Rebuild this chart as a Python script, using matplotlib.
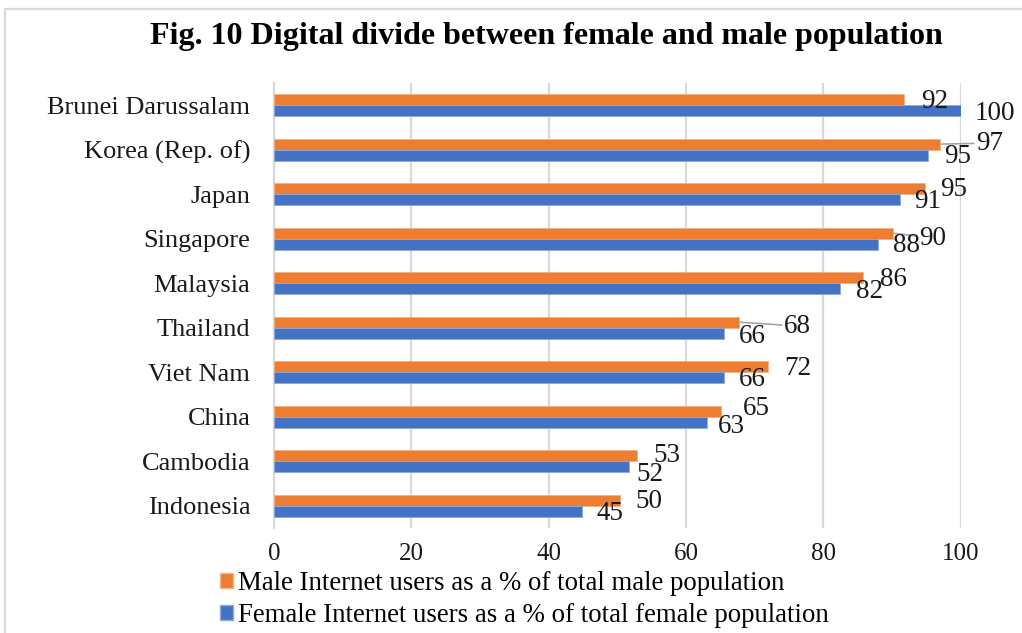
"""Horizontal grouped bars: internet users by sex, selected Asian economies."""

import numpy as np
import matplotlib

matplotlib.use("Agg")
import matplotlib.pyplot as plt
from matplotlib.patches import Patch, Rectangle

plt.rcParams["font.family"] = ["Liberation Serif", "DejaVu Serif"]

# Data
countries = ["Brunei Darussalam", "Korea (Rep. of)", "Japan", "Singapore", "Malaysia",
             "Thailand", "Viet Nam", "China", "Cambodia", "Indonesia"]
male = [91.8, 97.0, 94.8, 90.1, 85.8, 67.7, 71.9, 65.1, 52.8, 50.4]
female = [100.0, 95.3, 91.1, 87.9, 82.4, 65.5, 65.5, 63.0, 51.7, 44.9]
male_labels = ["92", "97", "95", "90", "86", "68", "72", "65", "53", "50"]
female_labels = ["100", "95", "91", "88", "82", "66", "66", "63", "52", "45"]
xticks = [0, 20, 40, 60, 80, 100]

male_name = "Male Internet users as a % of total male population"
female_name = "Female Internet users as a % of total female population"
title = "Fig. 10 Digital divide between female and male population"

# Label placement, pixel offsets from the bar end (x right, y up)
male_offsets = [(30, -2), (50, 1), (29, -1), (40, -5), (30, -2),
                (59, -4), (30, -2), (35, 3), (30, 0), (29, -1)]
female_offsets = [(34, -3), (29, -1), (28, -2), (29, -1), (30, -3),
                  (29, -3), (29, -2), (25, -4), (21, -8), (28, -2)]
male_leader = [False, True, False, True, False, True, False, False, False, False]

ORANGE = "#ED7D31"
BLUE = "#4472C4"
GRID = "#d9d9d9"
TEXT = "#1a1a1a"

fig = plt.figure(figsize=(10.22, 6.33), dpi=100)
ax = fig.add_axes([0.268, 0.166, 0.672, 0.703])

y = np.arange(len(countries))
h = 0.25
ax.barh(y - h / 2, male, height=h, color=ORANGE, edgecolor="#f4b183", linewidth=0.6, zorder=3)
ax.barh(y + h / 2, female, height=h, color=BLUE, edgecolor="#8faadc", linewidth=0.6, zorder=3)

for i in range(len(countries)):
    arrow = None
    if male_leader[i]:
        arrow = dict(arrowstyle="-", color="#a6a6a6", lw=1.2, shrinkA=0, shrinkB=1)
    ax.annotate(male_labels[i], xy=(male[i], y[i] - h / 2), xytext=male_offsets[i],
                textcoords="offset pixels", ha="center", va="center",
                fontsize=19.5, color=TEXT, arrowprops=arrow, zorder=4)
    ax.annotate(female_labels[i], xy=(female[i], y[i] + h / 2), xytext=female_offsets[i],
                textcoords="offset pixels", ha="center", va="center",
                fontsize=19.5, color=TEXT, zorder=4)

ax.set_ylim(len(countries) - 0.5, -0.5)
ax.set_xlim(0, 100)
ax.set_yticks(y)
ax.set_yticklabels(countries, fontsize=19)
ax.set_xticks(xticks)
ax.set_xticklabels([str(t) for t in xticks], fontsize=18)
ax.tick_params(axis="y", length=0, pad=17, colors=TEXT)
ax.tick_params(axis="x", length=0, pad=11, colors=TEXT)

ax.grid(axis="x", color=GRID, linewidth=1.6, zorder=0)
for side in ["top", "right", "bottom"]:
    ax.spines[side].set_visible(False)
ax.spines["left"].set_color(GRID)
ax.spines["left"].set_linewidth(1.6)

fig.text(0.535, 0.942, title, ha="center", va="center", fontsize=23, fontweight="bold")

handles = [Patch(facecolor=ORANGE, edgecolor="#f4b183"), Patch(facecolor=BLUE, edgecolor="#8faadc")]
fig.legend(handles, [male_name, female_name], loc="upper left",
           bbox_to_anchor=(0.215, 0.098), frameon=False, fontsize=19.3,
           handlelength=0.48, handleheight=0.48, handletextpad=0.19,
           labelspacing=0.28, borderpad=0, borderaxespad=0)

# chart-area border (open on the right and bottom like the source crop)
fig.patches.append(Rectangle((0.005, -0.1), 1.2, 1.0858, transform=fig.transFigure,
                             fill=False, edgecolor=GRID, linewidth=1.6))

fig.savefig("out.png", dpi=100)
